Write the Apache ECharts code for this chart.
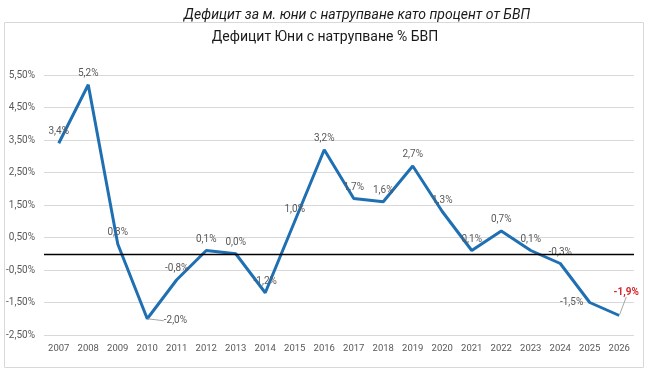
<!DOCTYPE html>
<html>
<head>
<meta charset="utf-8">
<script src="https://cdn.jsdelivr.net/npm/echarts@6/dist/echarts.min.js"></script>
<style>
  html, body { margin: 0; padding: 0; background: #fff; }
  #chart { width: 650px; height: 372px; }
</style>
</head>
<body>
<div id="chart"></div>
<script>
// годините
const years = ['2007', '2008', '2009', '2010', '2011', '2012', '2013', '2014', '2015', '2016',
    '2017', '2018', '2019', '2020', '2021', '2022', '2023', '2024', '2025', '2026']
// дефицит юни с натрупване, % от БВП
const deficit = [3.4, 5.2, 0.3, -2.0, -0.8, 0.1, 0.0, -1.2, 1.0, 3.2,
    1.7, 1.6, 2.7, 1.3, 0.1, 0.7, 0.1, -0.3, -1.5, -1.9]
const yMin = -2.5
const yMax = 5.5

const fontFamily = 'Roboto, "Liberation Sans", sans-serif'
const grey = '#595959'

// label tweaks for a few points (style only)
const labelTweaks = {
    '2010': { position: 'right', distance: 16, labelLine: true },
    '2025': { position: 'left', distance: 6 },
    '2026': { position: 'top', color: '#d9262b', bold: true, labelLine: true }
}
// extra shifts (px) applied through labelLayout
const labelShift = {
    '2010': [0, 2],
    '2026': [7, -12]
}

const fmt = v => v.toFixed(1).replace('.', ',') + '%'

const seriesData = deficit.map((v, i) => {
    const t = labelTweaks[years[i]]
    if (!t) return v
    const item = {
        value: v,
        label: {
            position: t.position,
            distance: t.distance != null ? t.distance : 6
        }
    }
    if (t.color) item.label.color = t.color
    if (t.bold) item.label.fontWeight = 'bold'
    if (t.labelLine) item.labelLine = { show: true, lineStyle: { color: '#a6a6a6', width: 1 } }
    return item
})

const chart = echarts.init(document.getElementById('chart'))

chart.setOption({
    animation: false,
    textStyle: { fontFamily },
    title: [{
        text: 'Дефицит за м. юни с натрупване като процент от БВП',
        left: 352,
        top: 3,
        textAlign: 'center',
        textStyle: { fontSize: 14, fontStyle: 'italic', fontWeight: 'normal', color: '#1a1a1a', fontFamily }
    }, {
        text: 'Дефицит Юни с натрупване % БВП',
        left: 320,
        top: 25,
        textAlign: 'center',
        textStyle: { fontSize: 14, fontWeight: 'normal', color: '#1a1a1a', fontFamily }
    }],
    graphic: [{
        type: 'rect',
        z: -10,
        shape: { x: 4.5, y: 22.5, width: 639, height: 345 },
        style: { fill: 'none', stroke: '#d9d9d9', lineWidth: 1 }
    }],
    grid: {
        left: 44,
        right: 16,
        top: 75,
        bottom: 37
    },
    xAxis: {
        type: 'category',
        data: years,
        boundaryGap: true,
        axisLine: { show: false },
        axisTick: { show: false },
        axisLabel: { color: grey, fontSize: 9.5, margin: 9, interval: 0 }
    },
    yAxis: {
        type: 'value',
        min: yMin,
        max: yMax,
        interval: 0.5,
        axisLine: { show: false },
        axisTick: { show: false },
        axisLabel: {
            color: grey,
            fontSize: 10,
            margin: 9,
            formatter: v => Math.round(v * 2) % 2 !== 0 ? v.toFixed(2).replace('.', ',') + '%' : ''
        },
        splitLine: {
            lineStyle: { color: ['#d9d9d9', 'rgba(0,0,0,0)'], width: 1 }
        }
    },
    series: [{
        type: 'line',
        data: seriesData,
        symbol: 'circle',
        symbolSize: 1,
        showSymbol: true,
        itemStyle: { color: 'rgba(31,111,179,0)', borderWidth: 0 },
        lineStyle: { color: '#1f6fb3', width: 3 },
        label: {
            show: true,
            position: 'top',
            distance: 6,
            color: grey,
            fontSize: 10,
            formatter: p => fmt(p.value)
        },
        labelLayout: params => {
            const s = labelShift[years[params.dataIndex]]
            return s ? { dx: s[0], dy: s[1], hideOverlap: false } : { hideOverlap: false }
        },
        markLine: {
            silent: true,
            symbol: 'none',
            label: { show: false },
            lineStyle: { color: '#000', type: 'solid', width: 1.3 },
            data: [{ yAxis: 0 }]
        },
        z: 3
    }]
})
</script>
</body>
</html>
